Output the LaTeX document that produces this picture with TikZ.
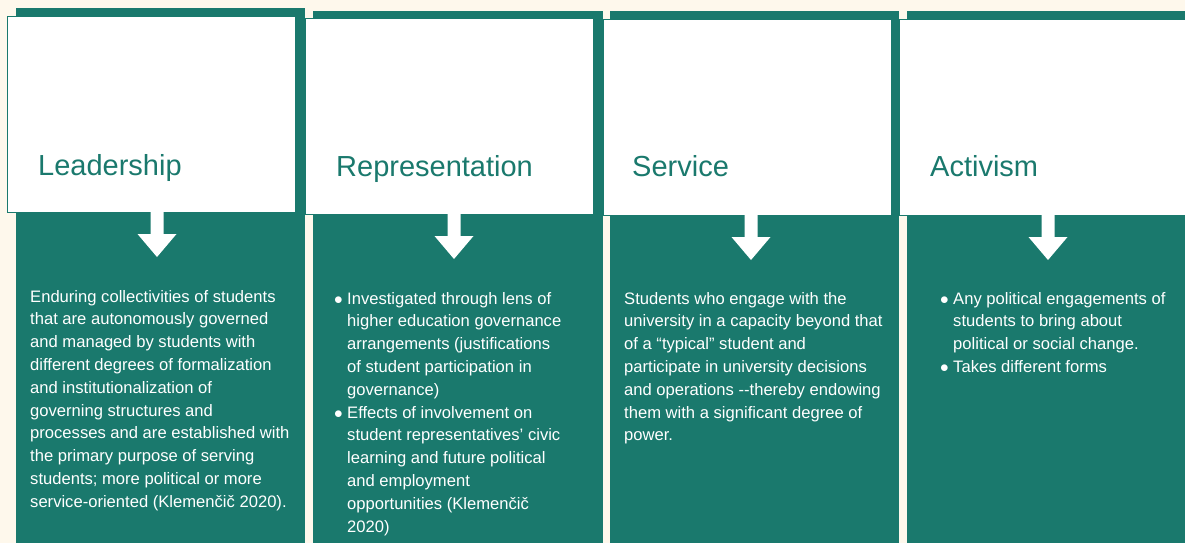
\documentclass[tikz,border=0pt]{standalone}
\usepackage{fontspec}
\setmainfont{Liberation Sans}
\usetikzlibrary{positioning}

\definecolor{panelteal}{HTML}{1A796D}
\definecolor{cream}{HTML}{FEF8EC}

\newcommand{\itm}{\makebox[13pt][l]{$\bullet$}}
\newcommand{\ind}{\hspace*{13pt}}

\begin{document}
\begin{tikzpicture}
      [x=1pt, y=-1pt,
      panel/.style={fill=panelteal},
      head/.style={draw=panelteal, fill=white, line width=1pt, anchor=north west,
        minimum width=288pt, minimum height=196pt, inner sep=0pt},
      title/.style={text=panelteal, font=\fontsize{29}{34}\selectfont,
        anchor=base west, inner sep=0pt},
      body/.style={text=white, font=\fontsize{16.6}{22.8}\selectfont,
        align=left, anchor=north west, inner sep=0pt},
      downarr/.pic={\fill[white] (-6.5,-1) -- (-6.5,21) -- (-19.5,21) -- (0,44)
        -- (19.5,21) -- (6.5,21) -- (6.5,-1) -- cycle;}]
      \fill[cream] (0,0) rectangle (1185,543);
      \useasboundingbox (0,0) rectangle (1185,543);
      % teal columns
      \fill[panel] (16,8.5) rectangle (305,543);
      \fill[panel] (313,11.5) rectangle (603,543);
      \fill[panel] (610,11) rectangle (899,543);
      \fill[panel] (907,11) rectangle (1185,543);
      % white heads
      \node (lead) at (7,16) [head] {};
      \node (repr) at (305,18) [head] {};
      \node (serv) at (603,19) [head] {};
      \node (activ) at (899,19) [head] {};
      \node (leadT) at (38,175) [title] {Leadership};
      \node (reprT) at (336,176) [title] {Representation};
      \node (servT) at (632,176) [title] {Service};
      \node (activT) at (930,176) [title] {Activism};
      % arrows
      \pic at (lead.south -| 157,0) {downarr};
      \pic at (repr.south -| 454,0) {downarr};
      \pic at (serv.south -| 751,0) {downarr};
      \pic at (activ.south -| 1048,0) {downarr};
      % texts
      \node (leadB) at (30,286) [body] {\strut Enduring collectivities of students\\
        that are autonomously governed\\
        and managed by students with\\
        different degrees of formalization\\
        and institutionalization of\\
        governing structures and\\
        processes and are established with\\
        the primary purpose of serving\\
        students; more political or more\\
        service-oriented (Klemenčič 2020).};
      \node (reprB) at (334,288) [body] {\strut\itm Investigated through lens of\\
        \ind higher education governance\\
        \ind arrangements (justifications\\
        \ind of student participation in\\
        \ind governance)\\
        \itm Effects of involvement on\\
        \ind student representatives’ civic\\
        \ind learning and future political\\
        \ind and employment\\
        \ind opportunities (Klemenčič\\
        \ind 2020)};
      \node (servB) at (624,288) [body] {\strut Students who engage with the\\
        university in a capacity beyond that\\
        of a “typical” student and\\
        participate in university decisions\\
        and operations -{}-thereby endowing\\
        them with a significant degree of\\
        power.};
      \node (activB) at (940,288) [body] {\strut\itm Any political engagements of\\
        \ind students to bring about\\
        \ind political or social change.\\
        \itm Takes different forms};
    \end{tikzpicture}
\end{document}
